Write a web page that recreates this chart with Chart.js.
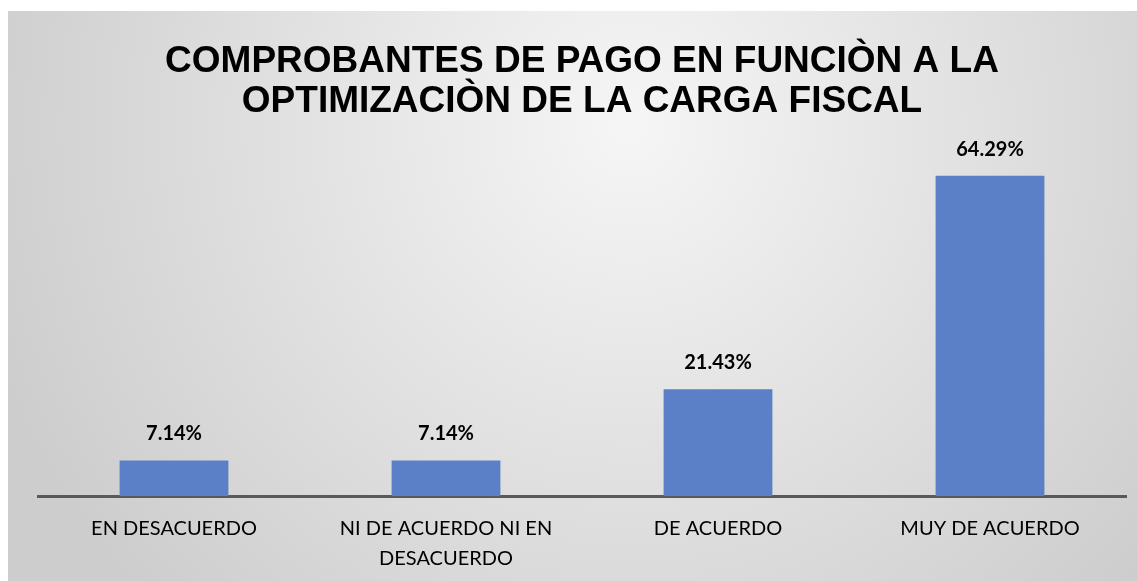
<!DOCTYPE html>
<html>
<head>
<meta charset="utf-8">
<script src="https://cdn.jsdelivr.net/npm/chart.js@4"></script>
<style>
  body { margin: 0; background: #fff; overflow: hidden; }
  #wrap { position: absolute; left: 8px; top: 11px; width: 1129px; height: 573px; }
</style>
</head>
<body>
<div id="wrap"><canvas id="myChart"></canvas></div>
<script>
const categories = [
  'EN DESACUERDO',
  ['NI DE ACUERDO NI EN', 'DESACUERDO'],
  'DE ACUERDO',
  'MUY DE ACUERDO'
];
const values = [7.14, 7.14, 21.43, 64.29];
const titleLines = ['COMPROBANTES DE PAGO EN FUNCIÒN A LA', 'OPTIMIZACIÒN DE LA CARGA FISCAL'];

// gray radial background like the original
const bgPlugin = {
  id: 'bg',
  beforeDraw(chart) {
    const { ctx, width, height } = chart;
    const g = ctx.createRadialGradient(width * 0.55, height * 0.2, 10, width * 0.55, height * 0.2, width * 0.6);
    g.addColorStop(0, '#f5f5f5');
    g.addColorStop(1, '#cdcdcd');
    ctx.save();
    ctx.fillStyle = g;
    ctx.fillRect(0, 0, width, height);
    ctx.restore();
  }
};

// percent labels above bars
const labelPlugin = {
  id: 'pctLabels',
  afterDatasetsDraw(chart) {
    const { ctx } = chart;
    const meta = chart.getDatasetMeta(0);
    ctx.save();
    ctx.font = 'bold 20px Lato';
    ctx.fillStyle = '#000';
    ctx.textAlign = 'center';
    ctx.textBaseline = 'alphabetic';
    meta.data.forEach((bar, i) => {
      ctx.fillText(values[i].toFixed(2) + '%', bar.x, bar.y - 20);
    });
    ctx.restore();
  }
};

const cht = document.getElementById('myChart').getContext('2d');
const myChart = new Chart(cht, {
  type: 'bar',
  data: {
    labels: categories,
    datasets: [{
      data: values,
      backgroundColor: '#5B80C8',
      borderWidth: 0,
      categoryPercentage: 1,
      barPercentage: 0.4
    }]
  },
  options: {
    responsive: true,
    maintainAspectRatio: false,
    animation: false,
    layout: { padding: { left: 30, right: 11, top: 30, bottom: 0 } },
    plugins: {
      legend: { display: false },
      tooltip: { enabled: false },
      title: {
        display: true,
        text: titleLines,
        color: '#000',
        font: { family: 'Liberation Sans', size: 37, weight: 'bold', lineHeight: 1.1 },
        padding: { top: 0, bottom: 25 }
      }
    },
    scales: {
      x: {
        grid: { display: false },
        border: { display: true, color: '#595959', width: 3 },
        ticks: {
          color: '#000',
          padding: 10,
          maxRotation: 0,
          font: { family: 'Lato', size: 20, lineHeight: 1.5 }
        }
      },
      y: {
        display: false,
        min: 0,
        max: 70
      }
    }
  },
  plugins: [bgPlugin, labelPlugin]
});
</script>
</body>
</html>
